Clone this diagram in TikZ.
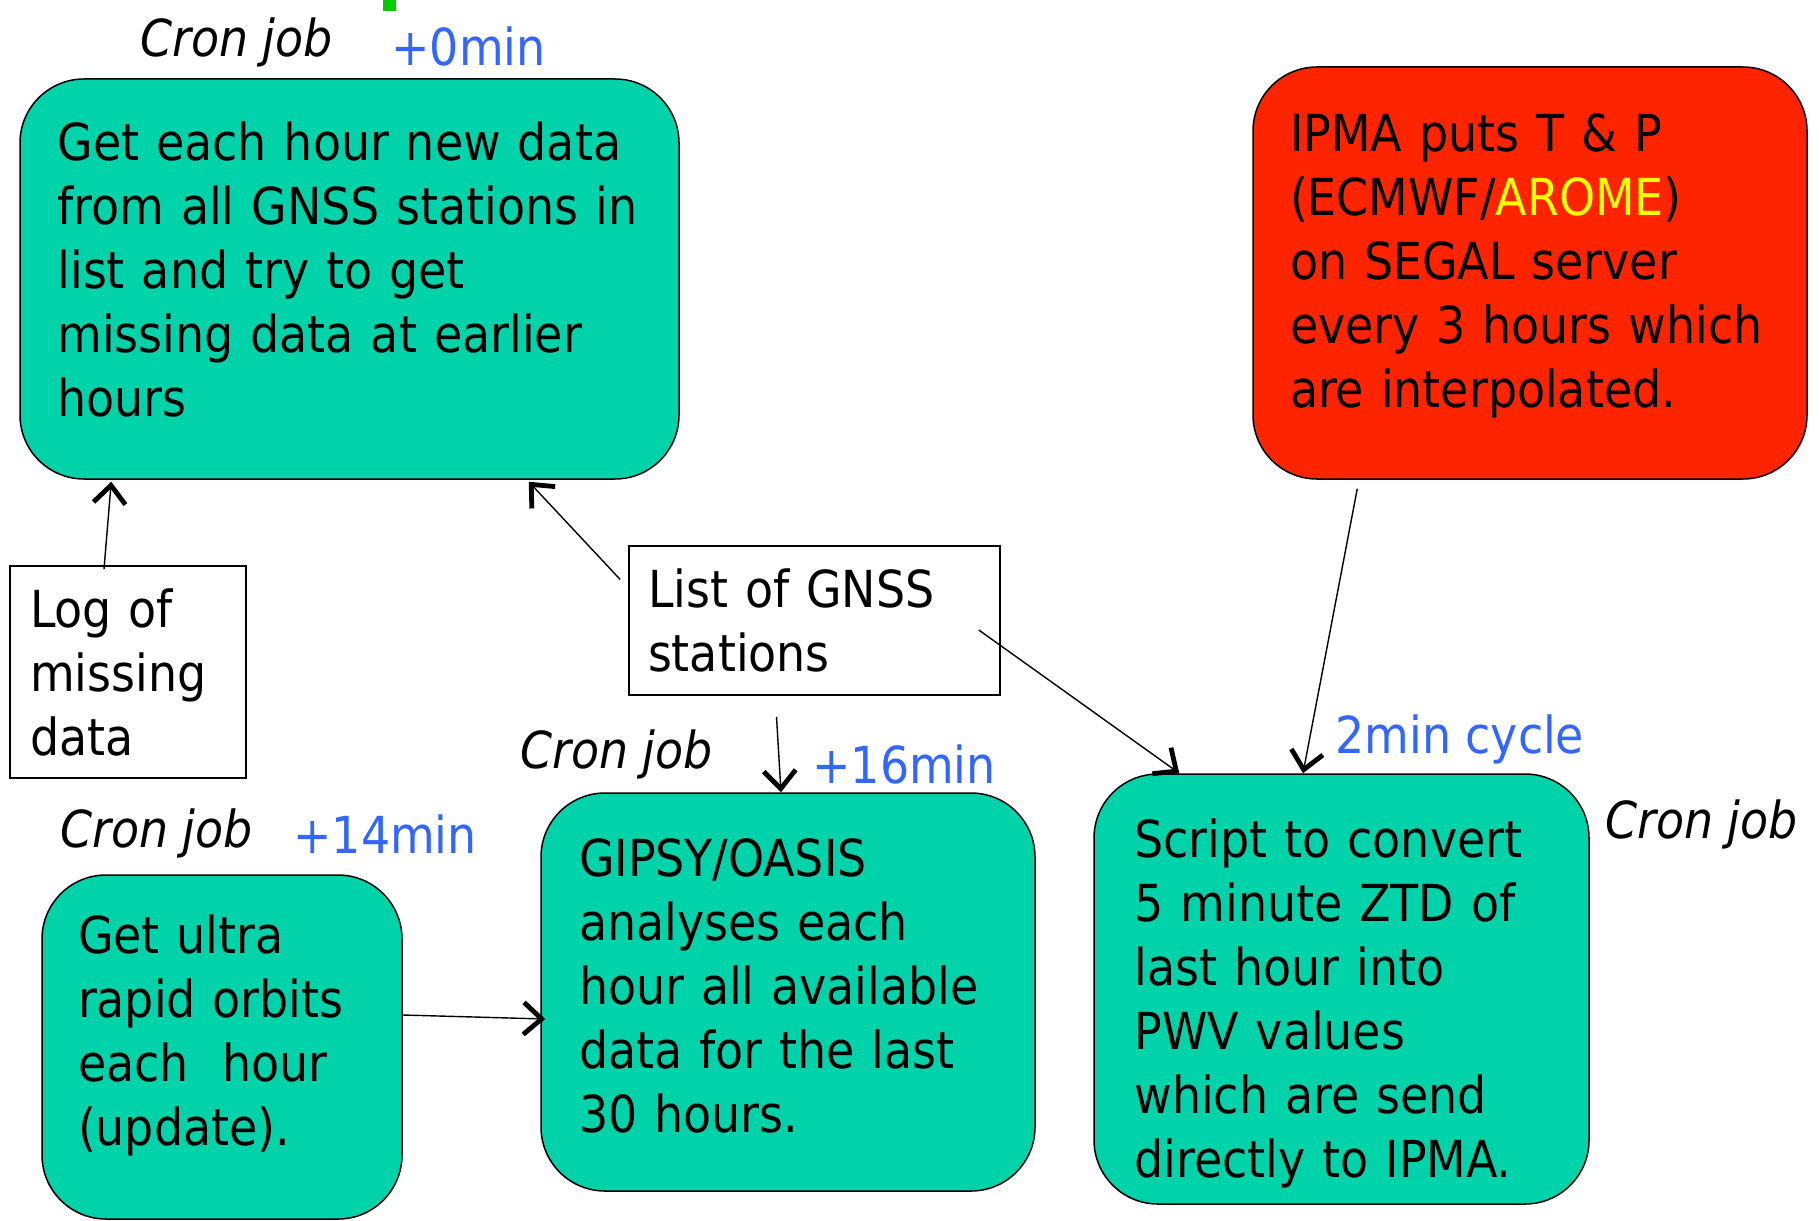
\documentclass[tikz,border=0pt]{standalone}
\usepackage{fontspec}
\IfFontExistsTF{DejaVu Sans Condensed}
  {\setmainfont{DejaVu Sans Condensed}}
  {\setmainfont{DejaVu Sans}[FakeStretch=0.9]}
\usepackage{xcolor}
\usepackage{tikz}
\usetikzlibrary{arrows.meta}
\definecolor{jobgreen}{RGB}{0,210,170}
\definecolor{ipmared}{RGB}{255,36,0}
\definecolor{timeblue}{RGB}{51,102,255}
\definecolor{aromeyellow}{RGB}{255,255,0}
\definecolor{markgreen}{RGB}{0,204,0}

\begin{document}
\begin{tikzpicture}[
  x=0.5pt, y=-0.5pt,
  every node/.style={font=\fontsize{25.5}{32}\selectfont},
  job/.style={draw,line width=0.75pt,rounded corners=32pt,fill=jobgreen,align=left,inner xsep=0pt,inner ysep=0pt},
  ipmabox/.style={job,fill=ipmared},
  filebox/.style={draw,line width=0.8pt,align=left,inner xsep=0pt,inner ysep=0pt},
  cron/.style={anchor=base west,inner sep=0pt,font=\fontsize{25.5}{32}\selectfont\itshape},
  delay/.style={anchor=base west,inner sep=0pt,text=timeblue},
  arrow/.style={-{Straight Barb[length=9pt,width=16pt,line width=2.4pt]},line width=0.7pt}
]
\useasboundingbox (0,0) rectangle (1819,1220);
\fill[markgreen] (383,0) rectangle (396,11);

% jobs and files
\node[job,minimum width=329.5pt,minimum height=200pt,text width=292pt] (hourly) at (349.5,279)
  {Get each hour new data\\from all GNSS stations in\\list and try to get\\missing data at earlier\\hours\rule[-9.5pt]{0pt}{9.5pt}};
\node[ipmabox,minimum width=277pt,minimum height=206pt,text width=240pt] (ipma) at (1530,273)
  {IPMA puts T \& P\\(ECMWF/\textcolor{aromeyellow}{AROME})\\on SEGAL server\\every 3 hours which\\are interpolated.\rule[-12pt]{0pt}{12pt}};
\node[filebox,minimum width=118pt,minimum height=106pt,text width=98pt] (log) at (128,672)
  {Log of\\missing\\data};
\node[filebox,minimum width=185.5pt,minimum height=74.5pt,text width=166.5pt] (list) at (814.5,620.5)
  {List of GNSS\\stations};
\node[job,minimum width=180pt,minimum height=172pt,text width=144pt] (orbits) at (222,1047)
  {Get ultra\\rapid orbits\\each~ hour\\(update).\rule[-16.5pt]{0pt}{16.5pt}};
\node[job,minimum width=247pt,minimum height=199pt,text width=209pt] (gipsy) at (788,992)
  {GIPSY/OASIS\\analyses each\\hour all available\\data for the last\\30 hours.\rule[-6pt]{0pt}{6pt}};
\node[job,minimum width=247.5pt,minimum height=215pt,text width=207pt] (script) at (1341.5,989)
  {\rule{0pt}{34pt}Script to convert\\5 minute ZTD of\\last hour into\\PWV values\\which are send\\directly to IPMA.};

% labels
\node[cron] (cronhourly) at (140,57) {Cron job};
\node[delay] (delayhourly) at (391,66) {+0min};
\node[cron] (crongipsy) at (520,768) {Cron job};
\node[delay] (delaygipsy) at (812,783) {+16min};
\node[cron] (cronorbits) at (60,847) {Cron job};
\node[delay] (delayorbits) at (293,853) {+14min};
\node[delay] (cyclescript) at (1335,753) {2min cycle};
\node[cron] (cronscript) at (1605,838) {Cron job};

% connectors
\draw[arrow] ([xshift=-12pt,yshift=-2pt]log.north) -- ([xshift=46pt,yshift=-1pt]hourly.south west);
\draw[arrow] ([xshift=-4pt,yshift=20.5pt]list.west) -- ([xshift=-75.5pt,yshift=-1pt]hourly.south east);
\draw[arrow] ([xshift=-19pt,yshift=-10.5pt]list.south) -- ([xshift=-3.5pt]gipsy.north);
\draw[arrow] ([xshift=-11pt,yshift=-4.75pt]list.east) -- ([xshift=43pt]script.north west);
\draw[arrow] ([xshift=52.5pt,yshift=-4.5pt]ipma.south west) -- ([xshift=-19.25pt]script.north);
\draw[arrow] ([yshift=16pt]orbits.east) -- ([xshift=2.5pt,yshift=-13.5pt]gipsy.west);
\end{tikzpicture}
\end{document}
